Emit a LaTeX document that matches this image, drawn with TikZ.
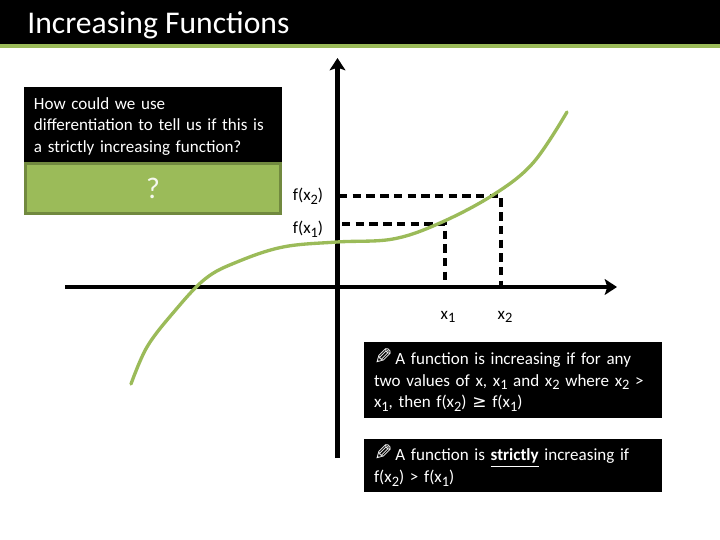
\documentclass[tikz,border=0pt]{standalone}
\usepackage{fontspec}
\setmainfont{Carlito}
\newfontfamily\symfont{DejaVu Sans}
\usetikzlibrary{arrows.meta,positioning}
\definecolor{leaf}{HTML}{9BBB59}
\definecolor{leafdark}{HTML}{71893F}
\newcommand{\pencilmark}{\scalebox{1.3}{\reflectbox{\symfont\char"270E}}\hspace{-1.6pt}}
\newcommand{\lowidx}[1]{\raisebox{-0.45ex}{\fontsize{8.2}{8.2}\selectfont #1}}
\newcommand{\topgap}{\rule{0pt}{9pt}}
\tikzset{
  titlebar/.style={
    rectangle, fill=black, minimum width=14.4cm, minimum height=0.88cm,
    anchor=north west, inner sep=0pt, outer sep=0pt
  },
  blackbox/.style={
    rectangle, fill=black, text=white, anchor=north west, align=left,
    font=\fontsize{9.7}{12.3}\selectfont, inner sep=0pt, outer sep=0pt
  },
  answerbox/.style={
    rectangle, draw=leafdark, fill=leaf, line width=1.5pt, text=white!90!leaf,
    font=\fontsize{17}{19}\selectfont, anchor=north west, inner sep=0pt, outer sep=0pt
  },
  axisline/.style={
    -{Stealth[length=7pt,width=9pt,inset=1.5pt]}, line width=2.4pt
  },
  guideline/.style={
    line width=1.9pt, dash pattern=on 4.8pt off 3pt
  },
  curveline/.style={
    line width=1.9pt, color=leaf, line cap=round
  },
  labelnode/.style={
    font=\fontsize{9.7}{12}\selectfont, inner sep=0pt
  },
}
\begin{document}
\begin{tikzpicture}[x=0.02cm,y=-0.02cm]
  \useasboundingbox (0,0) rectangle (720,540);

  % Title
  \node[titlebar] (title) at (0,0) {};
  \node[font=\fontsize{18}{20}\selectfont, text=white, inner sep=0pt, anchor=west] (titletext) at (27,25.5) {Increasing Functions};
  \fill[leaf] (0,44) rectangle (720,48);

  % Question
  \node[blackbox, minimum width=5.16cm, minimum height=1.5cm, text width=4.76cm] (question) at (24,87)
    {\topgap How could we use\\differentiation to tell us if this is\\a strictly increasing function?};
  \node[answerbox, minimum width=5.1cm, minimum height=1cm] (answer) at (25.5,163.5) {?};

  % Axes
  \coordinate (ybottom) at (337.5,458);
  \coordinate (ytop) at (337.5,58);
  \coordinate (xleft) at (65,287);
  \coordinate (xright) at (617,287);
  \draw[axisline] (ybottom) -- (ytop);
  \draw[axisline] (xleft) -- (xright);

  % Guides
  \coordinate (fa) at (342,224);
  \coordinate (fb) at (339,196);
  \coordinate (pa) at (445,224);
  \coordinate (pb) at (501,196);
  \coordinate (xa) at (445,287);
  \coordinate (xb) at (501,287);
  \draw[guideline] (fa) -- (pa) -- (xa);
  \draw[guideline] (fb) -- (pb) -- (xb);

  % Curve
  \draw[curveline] plot[smooth, tension=0.6] coordinates {
    (131,384) (147,347) (173,313) (205,279) (237,262) (283,247)
    (337,242) (393,239) (440,223) (493,195) (533,163) (567,112)};

  % Labels
  \node[labelnode] (lfb) at (308,196) {f(x\lowidx{2})};
  \node[labelnode] (lfa) at (308,229) {f(x\lowidx{1})};
  \node[labelnode] (lxa) at (448,317) {x\lowidx{1}};
  \node[labelnode] (lxb) at (505,317) {x\lowidx{2}};

  % Notes
  \node[blackbox, minimum width=5.96cm, minimum height=1.52cm, text width=5.56cm] (noteone) at (364,342)
    {\topgap\pencilmark{} A function is increasing if for any\\two values of x, x\lowidx{1} and x\lowidx{2} where x\lowidx{2} >\\x\lowidx{1}, then f(x\lowidx{2}) {\symfont ≥} f(x\lowidx{1})};
  \node[blackbox, minimum width=5.96cm, minimum height=1.06cm, text width=5.56cm] (notetwo) at (364,439)
    {\topgap\pencilmark{} A function is \underline{\textbf{strictly}} increasing if\\f(x\lowidx{2}) > f(x\lowidx{1})};
\end{tikzpicture}
\end{document}
